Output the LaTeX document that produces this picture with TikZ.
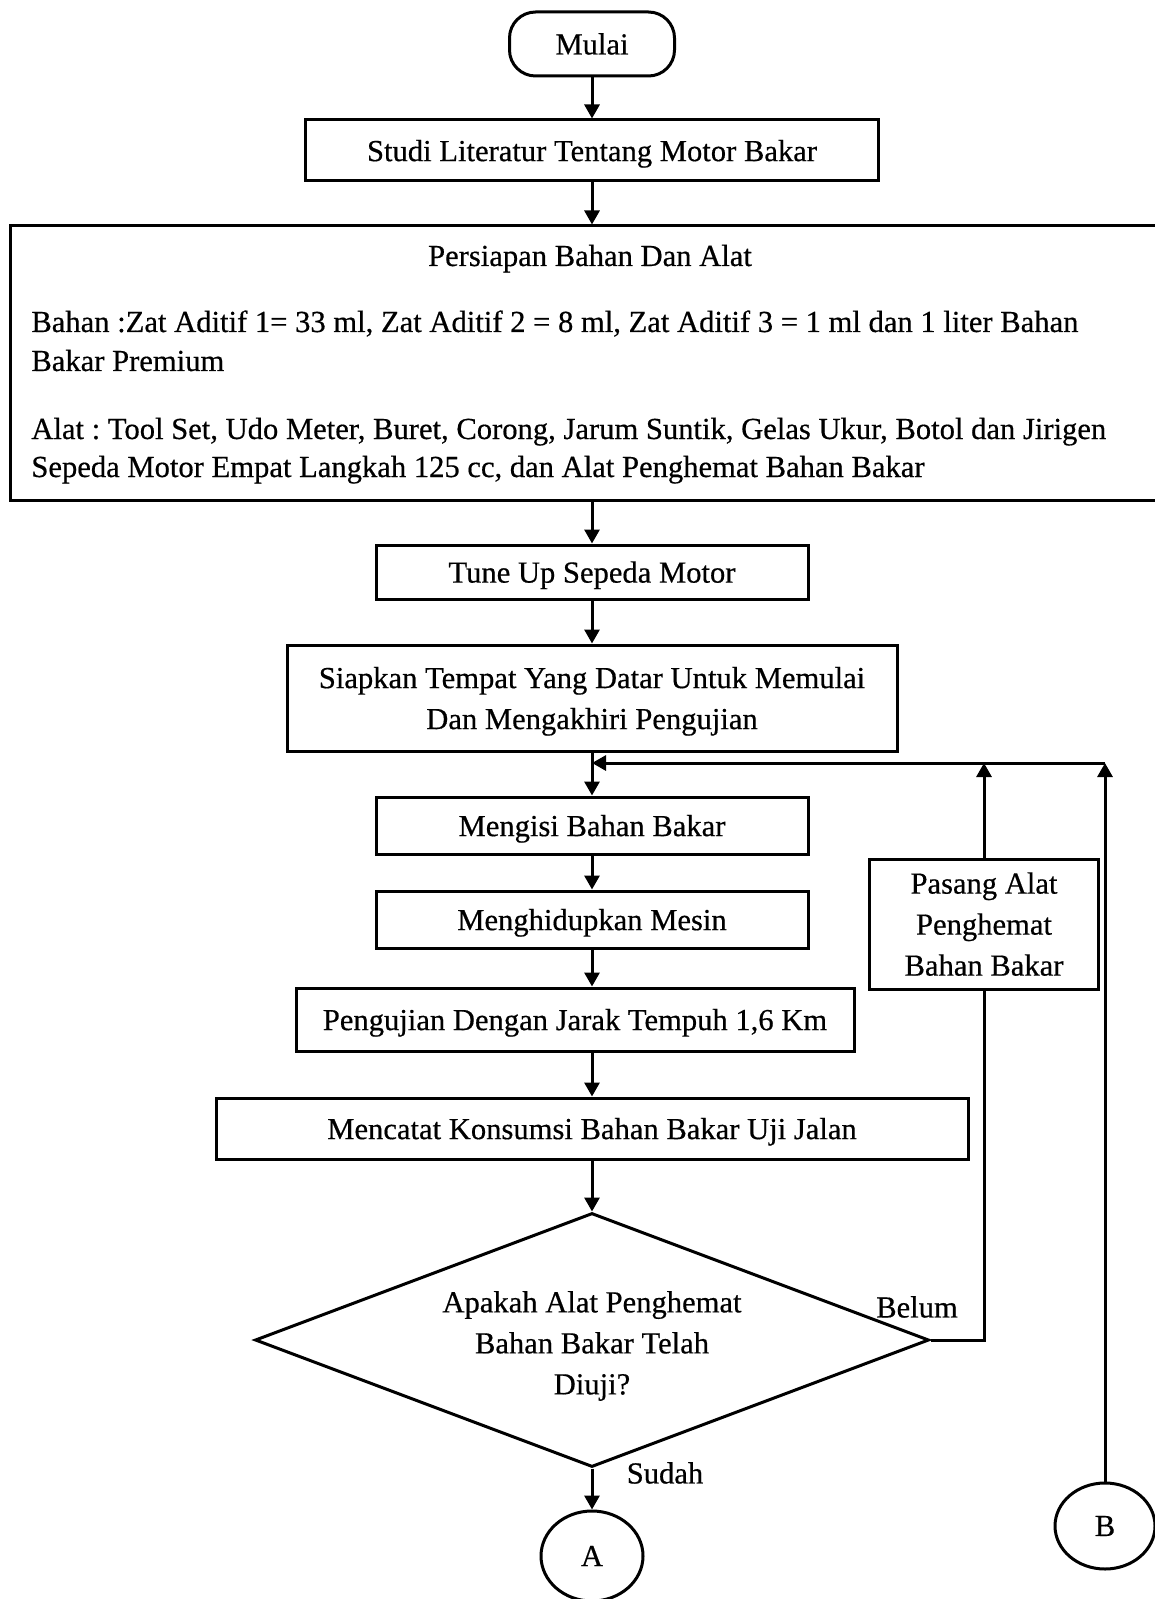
\documentclass[tikz,border=0pt]{standalone}
\usepackage{fontspec}
\setmainfont{Liberation Serif}[BoldFont=Liberation Serif,BoldFeatures={FakeBold=0.5}]

\usetikzlibrary{arrows.meta,shapes.geometric}

\begin{document}
\begin{tikzpicture}[x=0.5pt,y=-0.5pt,
  font=\fontsize{15.3}{20.5}\selectfont\bfseries\frenchspacing,
  base/.style={draw,line width=1.5pt,inner sep=0pt,align=center},
  box/.style={base,rectangle,text depth=0pt},
  terminal/.style={base,rectangle,rounded corners=13pt},
  decision/.style={base,diamond,aspect=2.65},
  connector/.style={base,ellipse},
  arr/.style={line width=1.5pt,-{Triangle[length=7pt,width=7.5pt]}},
  link/.style={line width=1.5pt},
  txt/.style={inner sep=0pt}
]
\useasboundingbox (0,0) rectangle (1155,1599);

% process steps
\node[terminal,minimum width=82.5pt,minimum height=32pt] (mulai) at (592,44) {Mulai};
\node[box,minimum width=286.5pt,minimum height=30.5pt] (studi) at (592,150.5) {Studi Literatur Tentang Motor Bakar};
\node[box,minimum width=576pt,minimum height=137pt] (persiapan) at (586,363) {};
\node[txt,anchor=base] (judul) at (590,266) {Persiapan Bahan Dan Alat};
\node[txt,anchor=base west] (bahanA) at (31,332) {Bahan :Zat Aditif 1= 33 ml, Zat Aditif 2 = 8 ml, Zat Aditif 3 = 1 ml dan 1 liter Bahan};
\node[txt,anchor=base west] (bahanB) at (31,371) {Bakar Premium};
\node[txt,anchor=base west] (alatA) at (31,439) {Alat : Tool Set, Udo Meter, Buret, Corong, Jarum Suntik, Gelas Ukur, Botol dan Jirigen};
\node[txt,anchor=base west] (alatB) at (31,477) {Sepeda Motor Empat Langkah 125 cc, dan Alat Penghemat Bahan Bakar};

\node[box,minimum width=216pt,minimum height=27pt] (tune) at (592,572) {Tune Up Sepeda Motor};
\node[box,minimum width=305pt,minimum height=53pt] (siapkan) at (592,698) {Siapkan Tempat Yang Datar Untuk Memulai\\Dan Mengakhiri Pengujian};
\node[box,minimum width=216pt,minimum height=28.5pt] (mengisi) at (592,825.5) {Mengisi Bahan Bakar};
\node[box,minimum width=216pt,minimum height=28.5pt] (hidup) at (592,919.5) {Menghidupkan Mesin};
\node[box,minimum width=279pt,minimum height=31.5pt] (uji) at (575,1019.5) {Pengujian Dengan Jarak Tempuh 1,6 Km};
\node[box,minimum width=376pt,minimum height=30.5pt] (catat) at (592,1128.5) {Mencatat Konsumsi Bahan Bakar Uji Jalan};
\node[decision,minimum width=337pt,minimum height=127pt] (cek) at (592,1340) {};
\node[txt,align=center] (cektanya) at (592,1346) {Apakah Alat Penghemat\\Bahan Bakar Telah\\Diuji?};
\node[box,minimum width=114.5pt,minimum height=65pt] (pasang) at (984,924) {Pasang Alat\\Penghemat\\Bahan Bakar};
\node[connector,minimum width=51pt,minimum height=45pt] (A) at (592,1556) {A};
\node[connector,minimum width=50pt,minimum height=43pt] (B) at (1105,1526) {B};

% branch labels
\node[txt] (belum) at (917,1307) {Belum};
\node[txt] (sudah) at (665,1473) {Sudah};

% junction of the return loop
\coordinate (J) at (592,763);

% main flow
\draw[arr] (mulai.south) -- (studi.north);
\draw[arr] (studi.south) -- (studi.south |- persiapan.north);
\draw[arr] (tune.north |- persiapan.south) -- (tune.north);
\draw[arr] (tune.south) -- (siapkan.north);
\draw[arr] (siapkan.south) -- (mengisi.north);
\draw[arr] (mengisi.south) -- (hidup.north);
\draw[arr] (hidup.south) -- (hidup.south |- uji.north);
\draw[arr] (hidup.south |- uji.south) -- (catat.north);
\draw[arr] (catat.south) -- (cek.north);
\draw[arr] (cek.south) -- (A.north);

% return loop
\draw[link] (cek.east) -| (pasang.south);
\draw[arr] (pasang.north) -- (pasang.north |- J);
\draw[arr] (B.north) -- (B.north |- J);
\draw[arr] (B.north |- J) -- (J);
\end{tikzpicture}
\end{document}
